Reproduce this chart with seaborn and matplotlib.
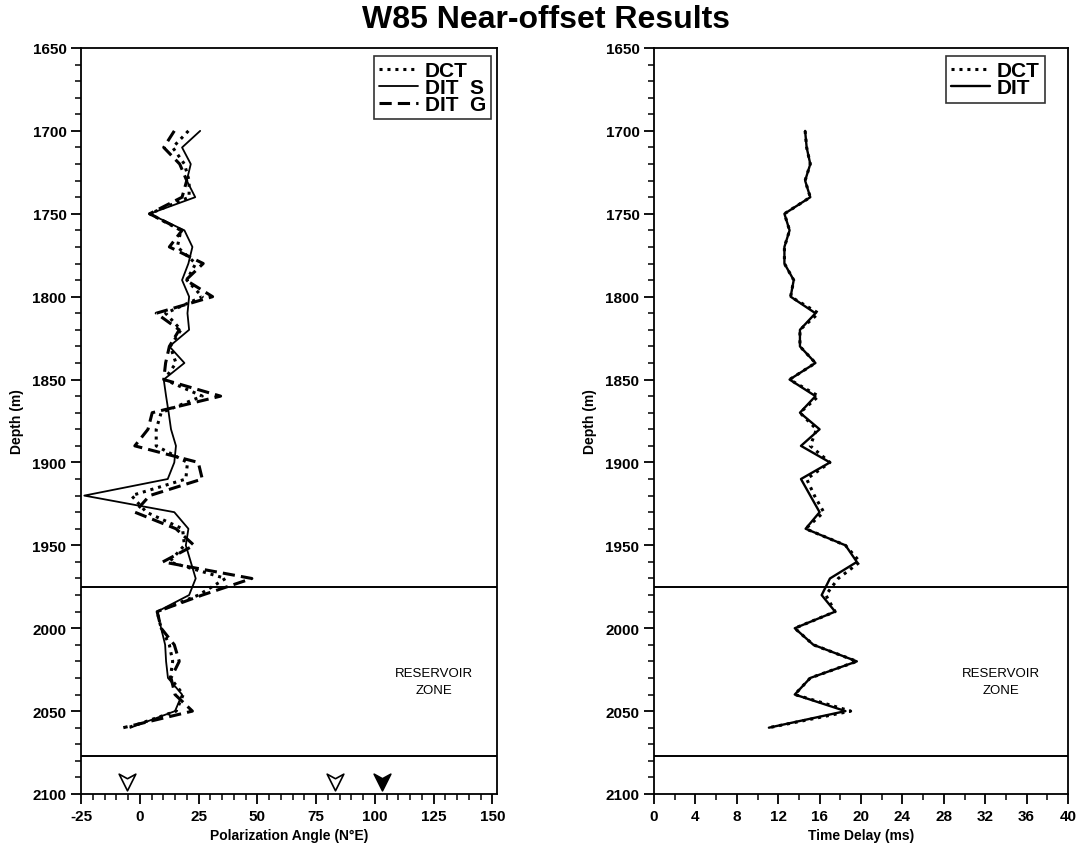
import numpy as np
import pandas as pd
import matplotlib
matplotlib.use("Agg")
import matplotlib.pyplot as plt
from matplotlib.path import Path
from matplotlib.ticker import MultipleLocator
import seaborn as sns

# Sample depths (m)
depth = list(range(1700, 2061, 10))

# Polarization angle (deg N of E) by method
dct_angle = [20.7, 14, 19, 21, 21, 4.2, 17.5, 16, 23.8, 20, 26.6, 11, 17.5, 13, 15.4,
             10.5, 26.6, 9.1, 7, 7, 20.3, 19.6, -3.5, 2.8, 18.2, 19, 12.6, 36.5, 25,
             7.4, 9.1, 12.6, 14, 13, 18.5, 15.5, -5]
dit_s_angle = [25.7, 18, 21.7, 20, 23.6, 4.2, 19, 22.4, 20.7, 18, 21, 20.3, 21, 12.6, 19,
               10.2, 11.2, 12.3, 13.3, 15.4, 14.7, 11.9, -23.6, 14.7, 20.7, 19.6, 21.7,
               23.8, 21, 7.4, 9.1, 10.8, 11.2, 12, 18, 15, -4]
dit_g_angle = [14.7, 10.2, 17, 20, 18, 4.2, 18, 12.6, 27, 19.6, 31, 7, 16.8, 12.6, 11,
               10.2, 34.4, 5.3, 3.5, -2.1, 24.9, 26.6, 4.2, -2.1, 15.4, 23.1, 9.8, 47.7,
               26.6, 7.4, 9.1, 14.7, 16.8, 13.3, 15, 22.4, -7]

# Shear-wave time delay (ms) by method
dct_delay = [14.6, 14.75, 15.1, 14.6, 15.1, 12.6, 13.1, 12.6, 12.6, 13.5, 13.2, 15.9,
             14.1, 14.1, 15.6, 13.1, 15.9, 14.1, 15.7, 15.1, 17.0, 14.75, 15.5, 16.4,
             14.65, 18.5, 19.9, 17.8, 16.6, 17.5, 13.6, 15.4, 19.6, 15.1, 13.6, 19.0, 11.1]
dit_delay = [14.6, 14.75, 15.1, 14.6, 15.1, 12.6, 13.1, 12.6, 12.6, 13.5, 13.2, 15.6,
             14.1, 14.1, 15.6, 13.1, 15.6, 14.1, 16.0, 14.2, 17.0, 14.2, 15.1, 16.0,
             14.65, 18.5, 19.6, 17.0, 16.2, 17.5, 13.6, 15.4, 19.6, 15.1, 13.6, 18.5, 11.1]

# Reservoir zone limits (m)
reservoir_top = 1975
reservoir_base = 2077

# Reference azimuths shown as arrowheads along the angle axis
ref_angles = [-5.5, 83, 103]
ref_filled = [False, False, True]

angles = pd.DataFrame({"depth": depth, "DCT": dct_angle,
                       "DIT S": dit_s_angle, "DIT G": dit_g_angle})
delays = pd.DataFrame({"depth": depth, "DCT": dct_delay, "DIT": dit_delay})

sns.set_style("ticks")
plt.rcParams["font.family"] = ["Liberation Sans", "DejaVu Sans"]
plt.rcParams["font.weight"] = "bold"
plt.rcParams["axes.unicode_minus"] = False
for key in ["text.color", "axes.labelcolor", "xtick.color", "ytick.color", "axes.edgecolor"]:
    plt.rcParams[key] = "black"

fig = plt.figure(figsize=(10.92, 8.53), dpi=100)
W, H = 1092, 853
ax1 = fig.add_axes([81 / W, 1 - 795 / H, 416 / W, 746 / H])
ax2 = fig.add_axes([654 / W, 1 - 795 / H, 414 / W, 746 / H])

fig.text(546 / W, 1 - 20 / H, "W85 Near-offset Results", ha="center", va="center",
         fontsize=23, fontweight="bold")

# Left panel: polarization angle profiles
sns.lineplot(data=angles, x="DCT", y="depth", sort=False, orient="y", ax=ax1,
             color="black", lw=2.2, linestyle=(0, (1, 1.6)), label="DCT")
sns.lineplot(data=angles, x="DIT S", y="depth", sort=False, orient="y", ax=ax1,
             color="black", lw=1.3, label="DIT  S")
sns.lineplot(data=angles, x="DIT G", y="depth", sort=False, orient="y", ax=ax1,
             color="black", lw=2.2, linestyle=(0, (4, 2)), label="DIT  G")

# Right panel: time delay profiles
sns.lineplot(data=delays, x="DCT", y="depth", sort=False, orient="y", ax=ax2,
             color="black", lw=2.2, linestyle=(0, (1, 1.6)), label="DCT")
sns.lineplot(data=delays, x="DIT", y="depth", sort=False, orient="y", ax=ax2,
             color="black", lw=1.7, label="DIT")

# Notched arrowhead marker
arrow = Path([(-1, 1), (0, -1), (1, 1), (0, 0.45), (-1, 1)],
             [Path.MOVETO, Path.LINETO, Path.LINETO, Path.LINETO, Path.CLOSEPOLY])
for a, f in zip(ref_angles, ref_filled):
    ax1.plot([a], [2093], marker=arrow, markersize=12, linestyle="none",
             markerfacecolor="black" if f else "white", markeredgecolor="black",
             markeredgewidth=1.2, clip_on=False)

for ax, xlim, xmaj, xmin, xlabel, zone_x, leg_anchor in [
        (ax1, (-25, 152), 25, 5, "Polarization Angle (N\u00b0E)", 125, (0.986, 0.989)),
        (ax2, (0, 40), 4, 2, "Time Delay (ms)", 33.5, (0.944, 0.989))]:
    ax.set_ylim(2100, 1650)
    ax.set_xlim(*xlim)
    ax.axhline(reservoir_top, color="black", lw=1.4)
    ax.axhline(reservoir_base, color="black", lw=1.4)
    ax.text(zone_x, 2032, "RESERVOIR\nZONE", ha="center", va="center",
            fontsize=9.5, fontweight="normal", linespacing=1.5)
    ax.yaxis.set_major_locator(MultipleLocator(50))
    ax.yaxis.set_minor_locator(MultipleLocator(10))
    ax.xaxis.set_major_locator(MultipleLocator(xmaj))
    ax.xaxis.set_minor_locator(MultipleLocator(xmin))
    ax.tick_params(which="major", length=7, width=1.3, labelsize=11, direction="out")
    ax.tick_params(which="minor", length=4, width=1.1, direction="out")
    for lab in ax.get_xticklabels() + ax.get_yticklabels():
        lab.set_fontweight("bold")
    ax.set_xlabel(xlabel, fontsize=10, fontweight="bold", labelpad=4)
    ax.set_ylabel("Depth (m)", fontsize=10, fontweight="bold", labelpad=6)
    for s in ax.spines.values():
        s.set_visible(True)
        s.set_linewidth(1.3)
        s.set_color("black")
    ax.grid(False)
    leg = ax.legend(loc="upper right", bbox_to_anchor=leg_anchor, fontsize=15,
                    frameon=True, fancybox=False, handlelength=1.9, handletextpad=0.3,
                    labelspacing=-0.1, borderpad=0.25, borderaxespad=0.0)
    leg.get_frame().set_edgecolor("black")
    leg.get_frame().set_linewidth(1.2)
    for t in leg.get_texts():
        t.set_fontweight("bold")

fig.savefig("out.png", dpi=100)
